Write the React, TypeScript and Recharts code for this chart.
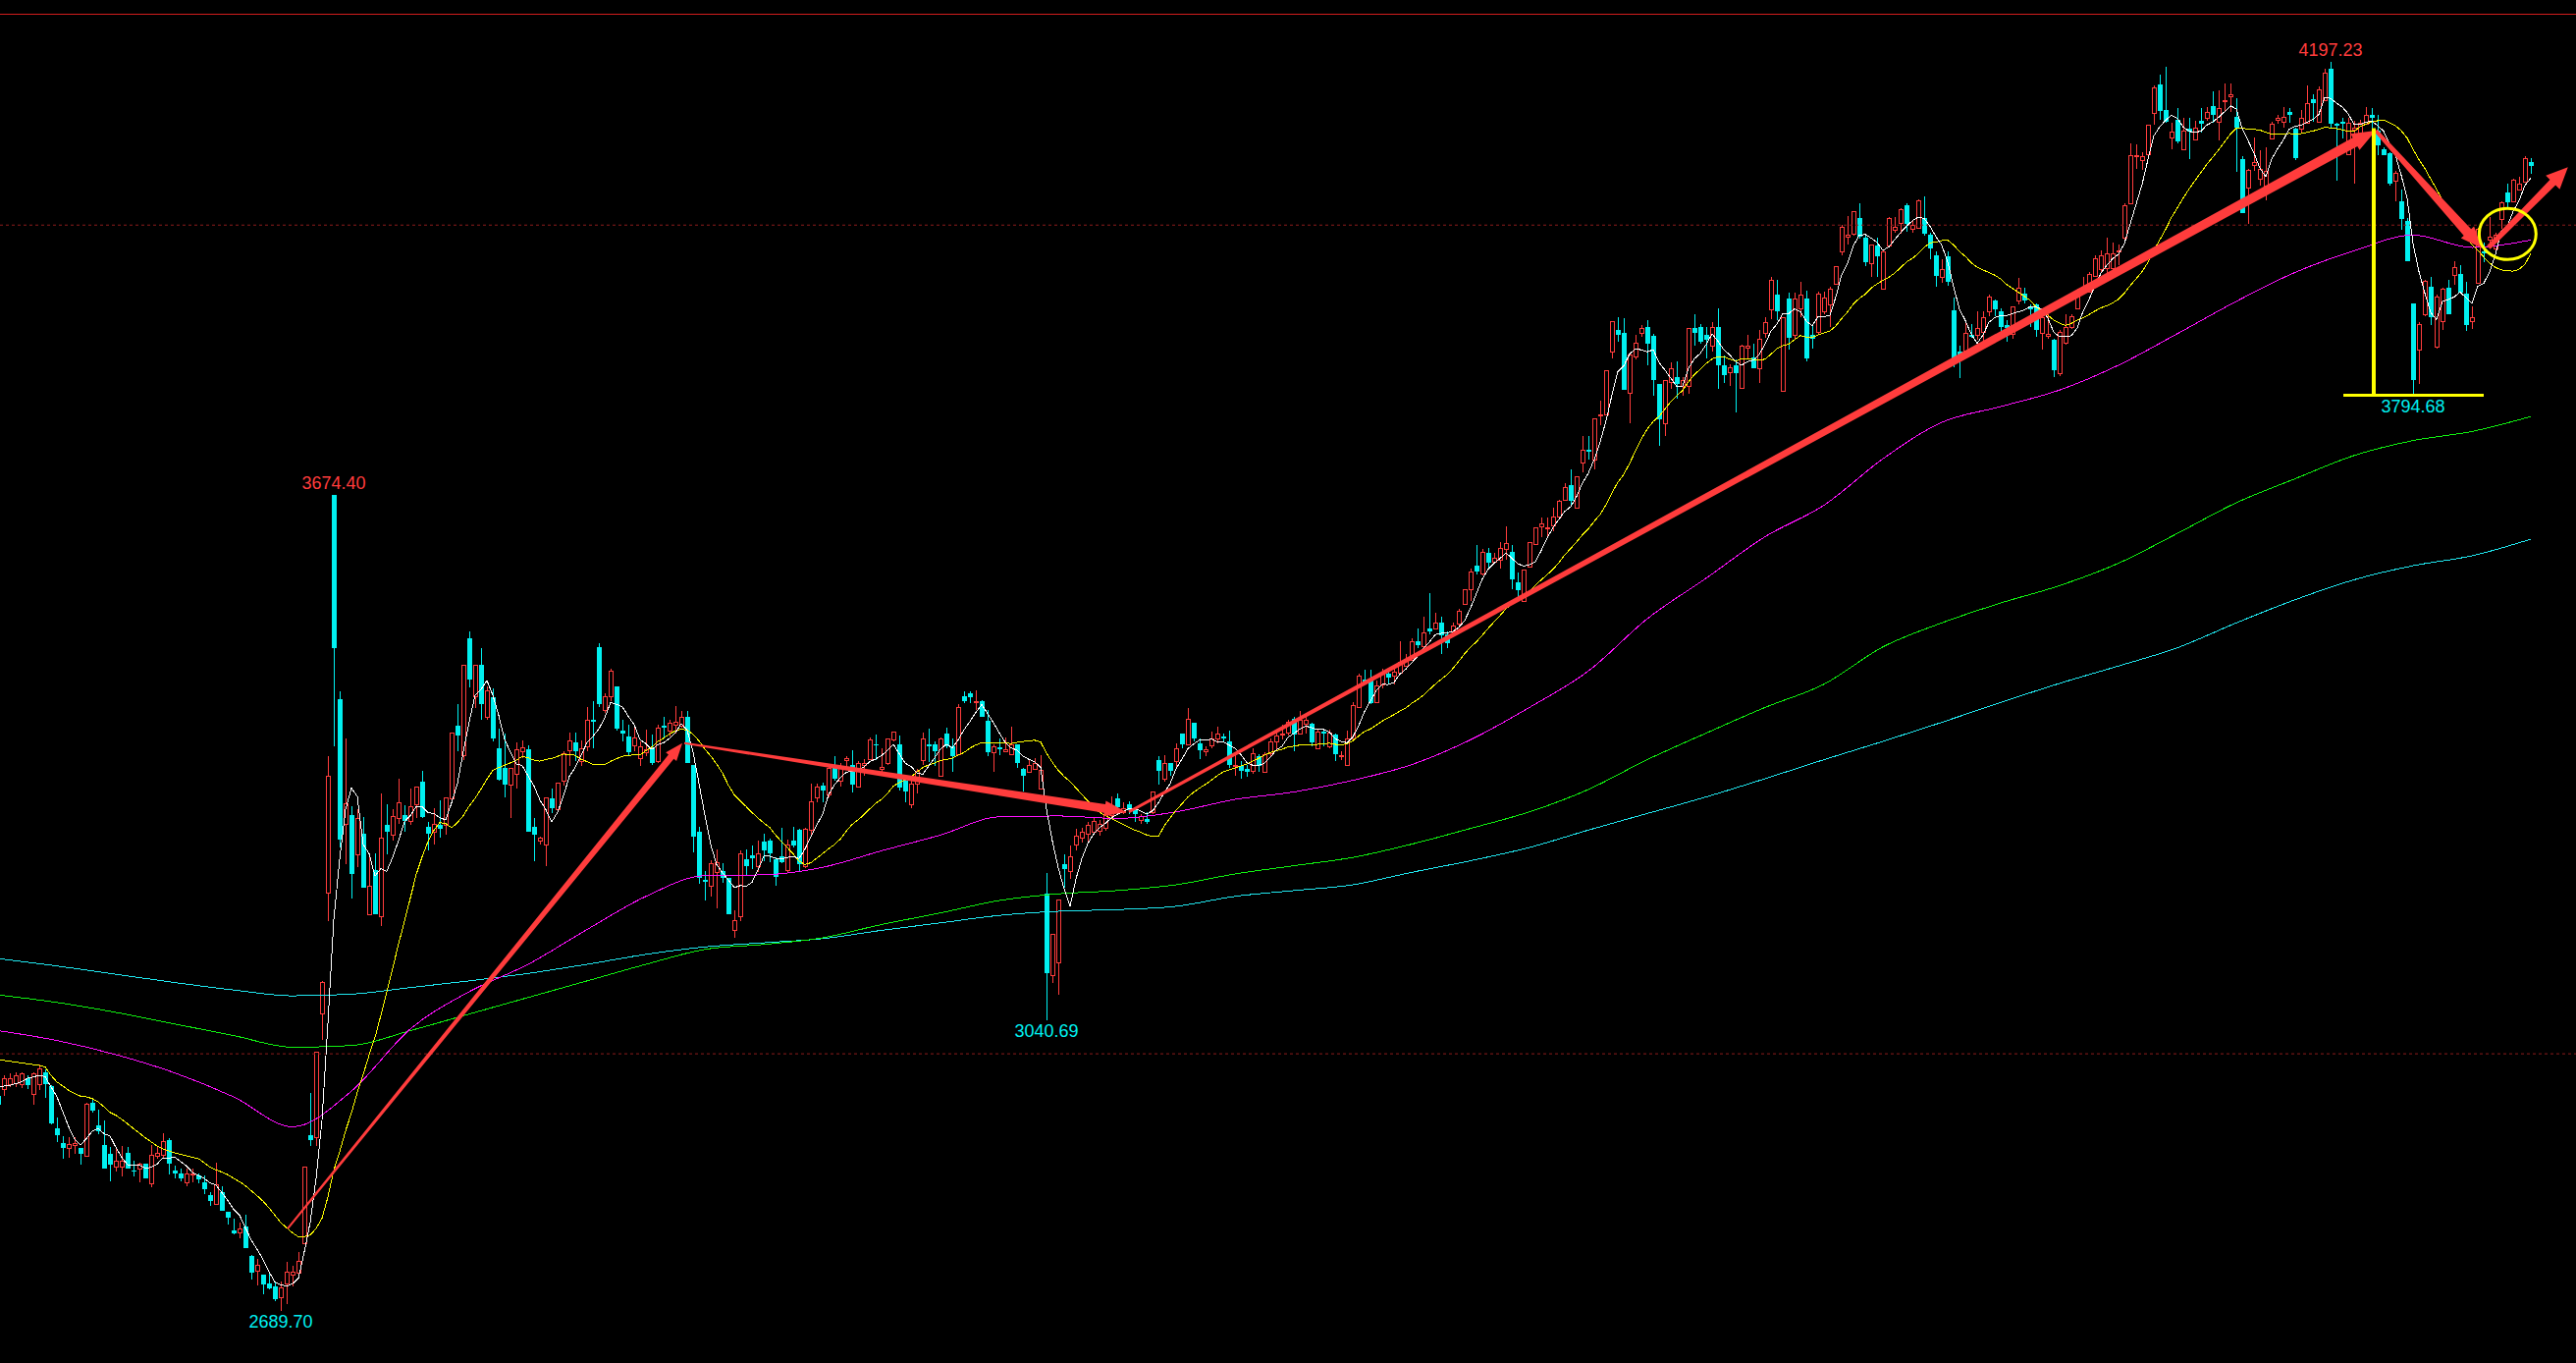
// Index daily candles with five moving averages and hand-drawn trend marks, on a black board.

import {
  ComposedChart,
  Bar,
  Line,
  XAxis,
  YAxis,
  ReferenceLine,
  ReferenceDot,
} from "recharts";

const W = 2624;
const H = 1388;
// one candle every 6px, first candle centred at x = -2
const X_DOMAIN: [number, number] = [1 / 3, 1 / 3 + W / 6];
const Y_DOMAIN: [number, number] = [2626.9, 4271.64];

const UP = "#ff3c3c";
const DOWN = "#00f0f0";
const ARROW = "#ff3c3c";
const MARK = "#ffff00";

// daily OHLC, oldest first
const opens = [
  2949, 2957, 2964, 2965, 2964, 2971, 2951, 2964, 2978, 2961,
  2910, 2892, 2886, 2890, 2886, 2877, 2941, 2914, 2890, 2879,
  2864, 2864, 2881, 2859, 2861, 2868, 2844, 2877, 2878, 2896,
  2859, 2856, 2845, 2854, 2853, 2845, 2830, 2819, 2833, 2809,
  2787, 2785, 2792, 2756, 2738, 2733, 2723, 2719, 2706, 2723,
  2734, 2736, 2771, 2902, 2900, 3049, 3195, 3674.4, 3428, 3278,
  3288, 3241, 3266, 3168, 3222, 3166, 3276, 3264, 3285, 3288,
  3281, 3301, 3328, 3274, 3268, 3276, 3276, 3308, 3396, 3360,
  3502, 3432, 3470, 3407, 3430, 3369, 3345, 3325, 3338, 3365,
  3368, 3274, 3257, 3252, 3308, 3295, 3330, 3366, 3376, 3353,
  3371, 3403, 3491, 3415, 3432, 3443, 3390, 3383, 3372, 3357,
  3364, 3369, 3353, 3396, 3390, 3397, 3396, 3407, 3348, 3268,
  3210, 3203, 3219, 3221, 3212, 3149, 3166, 3235, 3240, 3227,
  3256, 3257, 3235, 3238, 3222, 3257, 3270, 3227, 3270, 3309,
  3324, 3313, 3345, 3330, 3355, 3349, 3322, 3348, 3356, 3374,
  3344, 3351, 3379, 3374, 3330, 3301, 3326, 3355, 3373, 3373,
  3336, 3386, 3371, 3362, 3431, 3435, 3424, 3426, 3402, 3364,
  3370, 3365, 3362, 3373, 3344, 3340, 3344, 3320, 3193, 3095,
  3110, 3229, 3221, 3253, 3261, 3266, 3268, 3269, 3273, 3288,
  3308, 3292, 3301, 3294, 3282, 3283, 3292, 3355, 3332, 3351,
  3353, 3386, 3374, 3399, 3375, 3365, 3372, 3380, 3383, 3377,
  3347, 3347, 3344, 3342, 3359, 3340, 3363, 3377, 3385, 3388,
  3404, 3386, 3398, 3398, 3369, 3389, 3371, 3385, 3359, 3349,
  3380, 3419, 3452, 3450, 3424, 3446, 3459, 3456, 3460, 3468,
  3475, 3498, 3492, 3513, 3513, 3520, 3506, 3510, 3519, 3543,
  3561, 3589, 3580, 3604, 3594, 3596, 3609, 3606, 3569, 3547,
  3588, 3615, 3636, 3634, 3638, 3648, 3668, 3686, 3659, 3713,
  3729, 3717, 3770, 3772, 3848, 3873, 3870, 3798, 3842, 3870,
  3877, 3866, 3808, 3761, 3811, 3817, 3806, 3806, 3876, 3877,
  3867, 3854, 3877, 3831, 3822, 3831, 3804, 3852, 3840, 3827,
  3870, 3898, 3916, 3800, 3911, 3867, 3900, 3912, 3867, 3871,
  3896, 3904, 3929, 3968, 3986, 3990, 4009, 3985, 3954, 3975,
  3923, 3975, 3994, 4003, 4024, 3996, 3997, 4008, 3988, 3963,
  3938, 3962, 3897, 3848, 3849, 3868, 3867, 3871, 3896, 3909,
  3896, 3880, 3869, 3909, 3917, 3902, 3904, 3870, 3866, 3862,
  3821, 3858, 3877, 3900, 3919, 3920, 3939, 3947, 3948, 3948,
  3968, 3985, 4026, 4083, 4079, 4086, 4135, 4170, 4139, 4106,
  4127, 4091, 4117, 4103, 4126, 4130, 4144, 4125, 4149, 4156,
  4131, 4080, 4045, 4072, 4056, 4048, 4104, 4127, 4125, 4137,
  4117, 4117, 4124, 4152, 4125, 4151, 4189, 4122, 4125, 4086,
  4115, 4099, 4122, 4133, 4114, 4092, 4087, 4054, 4029, 4005,
  3906, 3850, 3892, 3926, 3853, 3884, 3924, 3940, 3941, 3917,
  3884, 3930, 3968, 3983, 3972, 4007, 4039, 4029, 4043, 4052, 4076,
];

const highs = [
  2951, 2974, 2977, 2978, 2978, 2974, 2978, 2987, 2981, 2962,
  2923, 2901, 2899, 2899, 2886, 2941, 2947, 2933, 2919, 2888,
  2887, 2889, 2888, 2871, 2869, 2868, 2890, 2888, 2904, 2898,
  2865, 2861, 2862, 2862, 2856, 2853, 2833, 2869, 2840, 2809,
  2801, 2796, 2806, 2757, 2752, 2733, 2736, 2725, 2725, 2749,
  2744, 2761, 2864, 2953, 3002, 3088, 3359, 3674.4, 3438, 3381,
  3299, 3295, 3286, 3237, 3242, 3314, 3301, 3295, 3332, 3300,
  3320, 3322, 3341, 3280, 3296, 3306, 3310, 3388, 3422, 3470,
  3510, 3470, 3489, 3443, 3441, 3392, 3387, 3345, 3376, 3378,
  3372, 3285, 3262, 3310, 3320, 3327, 3365, 3388, 3388, 3378,
  3418, 3426, 3496, 3435, 3465, 3443, 3403, 3397, 3397, 3377,
  3391, 3385, 3397, 3407, 3403, 3420, 3414, 3414, 3348, 3274,
  3221, 3234, 3247, 3230, 3212, 3173, 3246, 3247, 3251, 3257,
  3266, 3260, 3237, 3273, 3259, 3274, 3272, 3273, 3326, 3326,
  3327, 3348, 3359, 3351, 3359, 3366, 3353, 3356, 3382, 3385,
  3369, 3381, 3389, 3384, 3334, 3330, 3344, 3388, 3392, 3377,
  3382, 3393, 3380, 3422, 3438, 3438, 3439, 3427, 3415, 3374,
  3381, 3382, 3395, 3374, 3345, 3355, 3357, 3360, 3218, 3145,
  3186, 3241, 3251, 3272, 3273, 3280, 3284, 3282, 3296, 3311,
  3314, 3303, 3305, 3297, 3289, 3292, 3316, 3359, 3360, 3351,
  3375, 3387, 3417, 3400, 3380, 3371, 3389, 3395, 3387, 3390,
  3362, 3353, 3348, 3369, 3361, 3364, 3381, 3389, 3397, 3403,
  3407, 3414, 3407, 3400, 3391, 3391, 3391, 3387, 3365, 3390,
  3424, 3459, 3463, 3463, 3451, 3465, 3462, 3469, 3498, 3483,
  3501, 3513, 3527, 3556, 3532, 3527, 3510, 3520, 3537, 3561,
  3586, 3614, 3609, 3611, 3604, 3617, 3636, 3614, 3581, 3584,
  3618, 3635, 3647, 3647, 3659, 3669, 3689, 3705, 3697, 3746,
  3746, 3767, 3788, 3825, 3884, 3889, 3888, 3844, 3867, 3879,
  3885, 3869, 3808, 3813, 3834, 3835, 3817, 3876, 3893, 3881,
  3877, 3883, 3900, 3843, 3832, 3838, 3856, 3867, 3857, 3873,
  3889, 3938, 3934, 3889, 3919, 3918, 3932, 3921, 3879, 3920,
  3920, 3926, 3950, 4000, 4011, 4017, 4026, 3987, 3977, 3985,
  3969, 4010, 4010, 4021, 4026, 4005, 4031, 4035, 3991, 3968,
  3959, 3968, 3913, 3854, 3883, 3881, 3896, 3896, 3916, 3910,
  3900, 3885, 3902, 3936, 3925, 3904, 3906, 3893, 3893, 3863,
  3873, 3892, 3892, 3923, 3937, 3943, 3964, 3969, 3985, 3979,
  3977, 4026, 4099, 4098, 4088, 4121, 4169, 4181, 4191, 4124,
  4141, 4129, 4129, 4126, 4141, 4142, 4162, 4163, 4171, 4171,
  4153, 4083, 4068, 4106, 4090, 4094, 4125, 4133, 4143, 4141,
  4118, 4139, 4169, 4158, 4167, 4189, 4197.23, 4124, 4130, 4129,
  4126, 4127, 4142, 4141, 4133, 4094, 4088, 4065, 4043, 4009,
  3906, 3883, 3934, 3938, 3916, 3924, 3934, 3956, 3952, 3932,
  3902, 3997, 3979, 4010, 3991, 4029, 4050, 4056, 4058, 4083, 4081,
];

const lows = [
  2937, 2949, 2960, 2960, 2959, 2958, 2939, 2956, 2947, 2915,
  2894, 2873, 2875, 2879, 2866, 2877, 2929, 2903, 2861, 2846,
  2858, 2852, 2862, 2852, 2845, 2850, 2839, 2873, 2873, 2854,
  2850, 2846, 2840, 2845, 2844, 2831, 2816, 2818, 2810, 2794,
  2782, 2777, 2766, 2728, 2721, 2710, 2716, 2702, 2689.7, 2698,
  2719, 2732, 2771, 2889, 2889, 3017, 3160, 3371, 3249, 3229,
  3187, 3225, 3201, 3168, 3168, 3154, 3241, 3257, 3277, 3268,
  3276, 3285, 3284, 3245, 3253, 3261, 3264, 3306, 3365, 3355,
  3442, 3417, 3403, 3403, 3377, 3330, 3310, 3284, 3320, 3357,
  3268, 3233, 3253, 3227, 3290, 3294, 3324, 3347, 3353, 3347,
  3365, 3369, 3418, 3411, 3426, 3390, 3377, 3360, 3365, 3347,
  3359, 3348, 3351, 3381, 3383, 3387, 3394, 3351, 3243, 3205,
  3185, 3190, 3176, 3206, 3169, 3140, 3160, 3215, 3223, 3219,
  3233, 3231, 3203, 3230, 3219, 3249, 3220, 3224, 3263, 3303,
  3304, 3310, 3330, 3323, 3344, 3315, 3321, 3336, 3355, 3355,
  3336, 3349, 3377, 3318, 3304, 3297, 3314, 3348, 3352, 3347,
  3335, 3369, 3340, 3360, 3423, 3423, 3415, 3407, 3359, 3340,
  3360, 3364, 3360, 3345, 3317, 3340, 3344, 3319, 3040.69, 3085,
  3071, 3201, 3211, 3246, 3255, 3255, 3264, 3263, 3269, 3286,
  3289, 3289, 3289, 3280, 3278, 3278, 3289, 3325, 3328, 3336,
  3344, 3369, 3372, 3377, 3356, 3359, 3369, 3375, 3376, 3345,
  3336, 3332, 3334, 3338, 3340, 3340, 3359, 3367, 3379, 3384,
  3365, 3385, 3387, 3371, 3368, 3371, 3369, 3353, 3355, 3348,
  3380, 3417, 3446, 3422, 3423, 3441, 3447, 3446, 3458, 3467,
  3474, 3490, 3490, 3506, 3513, 3483, 3490, 3506, 3517, 3542,
  3547, 3578, 3577, 3586, 3592, 3585, 3596, 3561, 3551, 3546,
  3588, 3614, 3624, 3625, 3630, 3647, 3667, 3663, 3659, 3702,
  3717, 3705, 3758, 3771, 3839, 3859, 3801, 3761, 3838, 3865,
  3831, 3794, 3734, 3746, 3802, 3791, 3794, 3796, 3854, 3857,
  3839, 3847, 3802, 3810, 3806, 3774, 3804, 3839, 3827, 3809,
  3864, 3887, 3885, 3800, 3850, 3863, 3889, 3835, 3851, 3869,
  3892, 3877, 3928, 3963, 3977, 3987, 3984, 3950, 3938, 3938,
  3922, 3973, 3991, 3990, 3992, 3991, 3995, 3987, 3959, 3926,
  3930, 3927, 3829, 3815, 3849, 3864, 3862, 3859, 3890, 3890,
  3871, 3859, 3863, 3904, 3905, 3877, 3865, 3850, 3863, 3817,
  3818, 3856, 3875, 3900, 3916, 3920, 3937, 3943, 3937, 3937,
  3952, 3983, 4025, 4068, 4067, 4085, 4121, 4127, 4124, 4091,
  4099, 4090, 4080, 4102, 4112, 4126, 4124, 4102, 4138, 4137,
  4064, 4014, 4002, 4066, 4048, 4030, 4103, 4122, 4118, 4124,
  4079, 4112, 4122, 4125, 4125, 4150, 4116, 4054, 4105, 4085,
  4050, 4098, 4121, 4113, 4084, 4085, 4048, 4029, 3994, 3956,
  3794.68, 3808, 3890, 3879, 3851, 3873, 3892, 3928, 3918, 3872,
  3875, 3929, 3955, 3975, 3967, 3995, 4021, 4027, 4042, 4051, 4062,
];

const closes = [
  2939, 2970, 2971, 2974, 2976, 2962, 2977, 2982, 2964, 2916,
  2902, 2886, 2891, 2892, 2879, 2940, 2932, 2906, 2861, 2866,
  2871, 2871, 2862, 2858, 2868, 2850, 2878, 2881, 2895, 2867,
  2856, 2850, 2856, 2856, 2849, 2837, 2823, 2843, 2810, 2802,
  2783, 2789, 2766, 2736, 2745, 2722, 2717, 2704, 2718, 2737,
  2737, 2750, 2864, 2896, 3002, 3087, 3336, 3490, 3259, 3302,
  3217, 3284, 3201, 3203, 3168, 3261, 3268, 3287, 3303, 3281,
  3299, 3322, 3286, 3266, 3278, 3272, 3310, 3388, 3384, 3470,
  3452, 3470, 3422, 3439, 3380, 3331, 3325, 3345, 3368, 3370,
  3268, 3264, 3261, 3310, 3296, 3327, 3363, 3378, 3365, 3369,
  3403, 3401, 3422, 3432, 3462, 3392, 3386, 3364, 3382, 3371,
  3368, 3351, 3393, 3393, 3399, 3401, 3407, 3351, 3262, 3212,
  3207, 3230, 3231, 3212, 3169, 3161, 3242, 3227, 3236, 3242,
  3245, 3242, 3214, 3231, 3253, 3251, 3229, 3272, 3305, 3323,
  3318, 3345, 3332, 3347, 3357, 3325, 3351, 3351, 3379, 3373,
  3346, 3381, 3389, 3321, 3317, 3326, 3342, 3381, 3371, 3365,
  3380, 3371, 3359, 3419, 3426, 3430, 3426, 3407, 3364, 3371,
  3368, 3368, 3374, 3351, 3336, 3348, 3351, 3343, 3097, 3145,
  3186, 3223, 3238, 3263, 3268, 3276, 3281, 3277, 3289, 3300,
  3298, 3297, 3294, 3289, 3287, 3280, 3316, 3342, 3351, 3342,
  3369, 3374, 3404, 3381, 3366, 3368, 3380, 3387, 3380, 3348,
  3348, 3342, 3340, 3363, 3347, 3362, 3377, 3384, 3386, 3401,
  3385, 3403, 3403, 3376, 3389, 3386, 3388, 3362, 3360, 3381,
  3421, 3456, 3448, 3423, 3444, 3459, 3454, 3461, 3473, 3474,
  3498, 3493, 3509, 3510, 3520, 3505, 3496, 3517, 3535, 3561,
  3582, 3582, 3606, 3593, 3598, 3610, 3616, 3573, 3560, 3584,
  3618, 3635, 3640, 3635, 3648, 3667, 3684, 3667, 3697, 3729,
  3727, 3767, 3772, 3825, 3884, 3868, 3801, 3844, 3858, 3876,
  3857, 3813, 3766, 3813, 3827, 3808, 3813, 3876, 3870, 3859,
  3862, 3877, 3831, 3819, 3828, 3821, 3855, 3854, 3827, 3863,
  3883, 3934, 3896, 3889, 3864, 3912, 3916, 3839, 3863, 3917,
  3913, 3923, 3950, 3998, 3988, 4017, 3986, 3955, 3976, 3962,
  3968, 4008, 3998, 4019, 4001, 4000, 4030, 3990, 3972, 3939,
  3947, 3931, 3839, 3837, 3870, 3865, 3876, 3889, 3914, 3898,
  3877, 3876, 3902, 3924, 3909, 3898, 3873, 3889, 3869, 3825,
  3871, 3877, 3890, 3918, 3926, 3941, 3960, 3964, 3966, 3966,
  3969, 4024, 4084, 4085, 4083, 4121, 4166, 4138, 4125, 4113,
  4101, 4114, 4113, 4118, 4122, 4137, 4133, 4141, 4151, 4158,
  4118, 4015, 4067, 4076, 4068, 4065, 4122, 4129, 4131, 4133,
  4081, 4129, 4147, 4147, 4164, 4184, 4122, 4120, 4122, 4124,
  4118, 4124, 4133, 4129, 4096, 4085, 4050, 4063, 4007, 3956,
  3813, 3881, 3933, 3889, 3914, 3923, 3892, 3949, 3918, 3880,
  3889, 3996, 3966, 3986, 3988, 4027, 4027, 4055, 4050, 4081, 4071,
];

// the first few averages reach back before the visible window
const ma5Head = [2960, 2961, 2962, 2964];
const ma20Head = [
  2993, 2992, 2991, 2990, 2989, 2988, 2987, 2986, 2984, 2974,
  2966, 2961, 2956, 2952, 2949, 2948, 2946, 2942, 2936,
];

// long averages, one reading every 10 candles
const LONG_STEP = 10;
const maPink = [
  3028, 3016, 2999, 2977, 2948, 2912, 2955, 3030, 3075, 3108,
  3150, 3190, 3215, 3216, 3225, 3245, 3264, 3286, 3287, 3284,
  3292, 3307, 3316, 3330, 3349, 3379, 3418, 3462, 3525, 3574,
  3624, 3662, 3718, 3762, 3781, 3801, 3831, 3869, 3908, 3943,
  3969, 3988, 3973, 3982,
];
const maGreen = [
  3071, 3062, 3050, 3036, 3022, 3008, 3010, 3028, 3048, 3068,
  3088, 3108, 3126, 3132, 3140, 3156, 3170, 3185, 3193, 3197,
  3204, 3217, 3227, 3237, 3253, 3272, 3292, 3319, 3355, 3387,
  3418, 3446, 3491, 3520, 3544, 3565, 3592, 3628, 3665, 3694,
  3722, 3740, 3751, 3769,
];
const maCyan = [
  3115, 3106, 3096, 3086, 3077, 3070, 3072, 3080, 3088, 3097,
  3108, 3120, 3129, 3134, 3139, 3149, 3158, 3167, 3172, 3174,
  3178, 3190, 3197, 3204, 3219, 3233, 3249, 3270, 3290, 3310,
  3332, 3355, 3377, 3400, 3424, 3447, 3468, 3490, 3520, 3548,
  3572, 3589, 3601, 3621,
];

// marked extremes: candle index, price, above/below
const extremeIdx = [48, 57, 178, 396, 410];
const extremePrice = [2689.7, 3674.4, 3040.69, 4197.23, 3794.68];
const extremeIsHigh = [false, true, false, true, false];

// hand-drawn trend arrows, in (candle index, price)
const arrowFrom = [
  [49.17, 2789], [116.5, 3375], [192, 3292], [403.67, 4114], [422.8, 3973],
];
const arrowTo = [
  [116.17, 3375], [191.5, 3292], [403.67, 4114], [421.7, 3972], [436.3, 4070],
];
const arrowWidths = [
  { tail: 2, shaft: 7, head: 14, headLen: 18 },
  { tail: 2, shaft: 9, head: 16, headLen: 22 },
  { tail: 3, shaft: 10, head: 19, headLen: 24 },
  { tail: 4, shaft: 10, head: 18, headLen: 22 },
  { tail: 5, shaft: 8, head: 20, headLen: 22 },
];

// yellow measuring marks and circle
const dropLineX = 403.33;
const dropTop = 4117;
const floorFrom = 398.17;
const floorTo = 422;
const circleAt = { x: 426.05, y: 3989.3 };

const mean = (a: number[]) => a.reduce((s, v) => s + v, 0) / a.length;

const rows = closes.map((c, i) => {
  const row: Record<string, number | undefined> = {
    i,
    open: opens[i],
    high: highs[i],
    low: lows[i],
    close: c,
  };
  row.ma5 = i < ma5Head.length ? ma5Head[i] : mean(closes.slice(i - 4, i + 1));
  row.ma20 = i < ma20Head.length ? ma20Head[i] : mean(closes.slice(i - 19, i + 1));
  if (i % LONG_STEP === 0) {
    const j = i / LONG_STEP;
    row.maPink = maPink[j];
    row.maGreen = maGreen[j];
    row.maCyan = maCyan[j];
  }
  return row;
});

function Candle(props: any) {
  const { x, y, width, height, payload } = props;
  if (!payload) return null;
  const { open, close, high, low } = payload;
  const cx = Math.round(x + width / 2);
  const top = Math.min(y, y + height);
  const h = Math.abs(height);
  const ppu = high > low ? h / (high - low) : 0;
  const yOf = (v: number) => top + (high - v) * ppu;
  const yHigh = Math.round(yOf(high));
  const yLow = Math.round(yOf(low));
  const bTop = Math.round(yOf(Math.max(open, close)));
  const bBot = Math.round(yOf(Math.min(open, close)));
  const wx = cx + 0.5;
  if (close >= open) {
    const bh = Math.max(bBot - bTop, 1);
    return (
      <g>
        {bTop > yHigh && <line x1={wx} x2={wx} y1={yHigh} y2={bTop} stroke={UP} strokeWidth={1} />}
        {yLow > bTop + bh && <line x1={wx} x2={wx} y1={bTop + bh} y2={yLow} stroke={UP} strokeWidth={1} />}
        <rect x={cx - 1.5} y={bTop + 0.5} width={4} height={bh} fill="#000" stroke={UP} strokeWidth={1} />
      </g>
    );
  }
  return (
    <g>
      <line x1={wx} x2={wx} y1={yHigh} y2={Math.max(yLow, yHigh + 1)} stroke={DOWN} strokeWidth={1} />
      <rect x={cx - 2} y={bTop} width={5} height={Math.max(bBot - bTop, 1)} fill={DOWN} />
    </g>
  );
}

const arrowShape = (w: { tail: number; shaft: number; head: number; headLen: number }) =>
  (p: any) => {
    const { x1, y1, x2, y2 } = p;
    const dx = x2 - x1;
    const dy = y2 - y1;
    const len = Math.hypot(dx, dy) || 1;
    const ux = dx / len;
    const uy = dy / len;
    const nx = -uy;
    const ny = ux;
    const bx = x2 - ux * w.headLen;
    const by = y2 - uy * w.headLen;
    const pts = [
      [x1 + (nx * w.tail) / 2, y1 + (ny * w.tail) / 2],
      [bx + (nx * w.shaft) / 2, by + (ny * w.shaft) / 2],
      [bx + (nx * w.head) / 2, by + (ny * w.head) / 2],
      [x2, y2],
      [bx - (nx * w.head) / 2, by - (ny * w.head) / 2],
      [bx - (nx * w.shaft) / 2, by - (ny * w.shaft) / 2],
      [x1 - (nx * w.tail) / 2, y1 - (ny * w.tail) / 2],
    ];
    return <polygon points={pts.map((q) => q.join(",")).join(" ")} fill={ARROW} />;
  };

const priceLabel = (text: string, isHigh: boolean) => (p: any) => (
  <text
    x={p.cx}
    y={isHigh ? p.cy - 12 : p.cy + 11}
    textAnchor="middle"
    dominantBaseline="central"
    fill={isHigh ? "#ff3c3c" : DOWN}
    fontSize={18}
    fontFamily="'Liberation Sans', Arial, sans-serif"
  >
    {text}
  </text>
);

export default function App() {
  return (
    <div
      style={{
        position: "absolute",
        left: 0,
        top: 0,
        width: W,
        height: H,
        background: "#000",
        overflow: "hidden",
      }}
    >
      {/* trading-terminal lines are drawn without anti-aliasing */}
      <style>{`.recharts-line-curve { shape-rendering: crispEdges; }`}</style>
      <div
        style={{ position: "absolute", left: 0, top: 14, width: W, height: 1, background: "#d21c1c" }}
      />
      <ComposedChart
        width={W}
        height={H}
        data={rows}
        margin={{ top: 0, right: 0, bottom: 0, left: 0 }}
        style={{ position: "absolute", left: 0, top: 0 }}
      >
        <XAxis dataKey="i" type="number" domain={X_DOMAIN} allowDataOverflow hide />
        <YAxis type="number" domain={Y_DOMAIN} allowDataOverflow hide />

        <ReferenceLine y={3000} stroke="#8c1c1c" strokeDasharray="3 3" />
        <ReferenceLine y={4000} stroke="#8c1c1c" strokeDasharray="3 3" />

        <Bar
          dataKey={(d: any) => [d.low, d.high]}
          barSize={5}
          shape={(p: any) => <Candle {...p} />}
          isAnimationActive={false}
        />

        <Line type="monotone" dataKey="maCyan" stroke="#20e8f0" strokeWidth={1} dot={false} connectNulls isAnimationActive={false} />
        <Line type="monotone" dataKey="maGreen" stroke="#10f010" strokeWidth={1} dot={false} connectNulls isAnimationActive={false} />
        <Line type="monotone" dataKey="maPink" stroke="#ff10ff" strokeWidth={1} dot={false} connectNulls isAnimationActive={false} />
        <Line type="linear" dataKey="ma20" stroke="#ffff00" strokeWidth={1} dot={false} isAnimationActive={false} />
        <Line type="linear" dataKey="ma5" stroke="#ffffff" strokeWidth={1} dot={false} isAnimationActive={false} />

        {arrowFrom.map((f, n) => (
          <ReferenceLine
            key={`arrow-${n}`}
            segment={[
              { x: f[0], y: f[1] },
              { x: arrowTo[n][0], y: arrowTo[n][1] },
            ]}
            ifOverflow="visible"
            shape={arrowShape(arrowWidths[n])}
          />
        ))}

        <ReferenceLine
          segment={[
            { x: dropLineX, y: dropTop },
            { x: dropLineX, y: extremePrice[4] },
          ]}
          stroke={MARK}
          strokeWidth={4}
          ifOverflow="visible"
        />
        <ReferenceLine
          segment={[
            { x: floorFrom, y: extremePrice[4] },
            { x: floorTo, y: extremePrice[4] },
          ]}
          stroke={MARK}
          strokeWidth={3}
          ifOverflow="visible"
        />
        <ReferenceDot
          x={circleAt.x}
          y={circleAt.y}
          r={1}
          ifOverflow="visible"
          shape={(p: any) => (
            <ellipse cx={p.cx} cy={p.cy} rx={29} ry={26} fill="none" stroke={MARK} strokeWidth={3} />
          )}
        />

        {extremeIdx.map((idx, n) => (
          <ReferenceDot
            key={`ext-${n}`}
            x={idx}
            y={extremePrice[n]}
            r={1}
            ifOverflow="visible"
            shape={priceLabel(extremePrice[n].toFixed(2), extremeIsHigh[n])}
          />
        ))}
      </ComposedChart>
    </div>
  );
}
